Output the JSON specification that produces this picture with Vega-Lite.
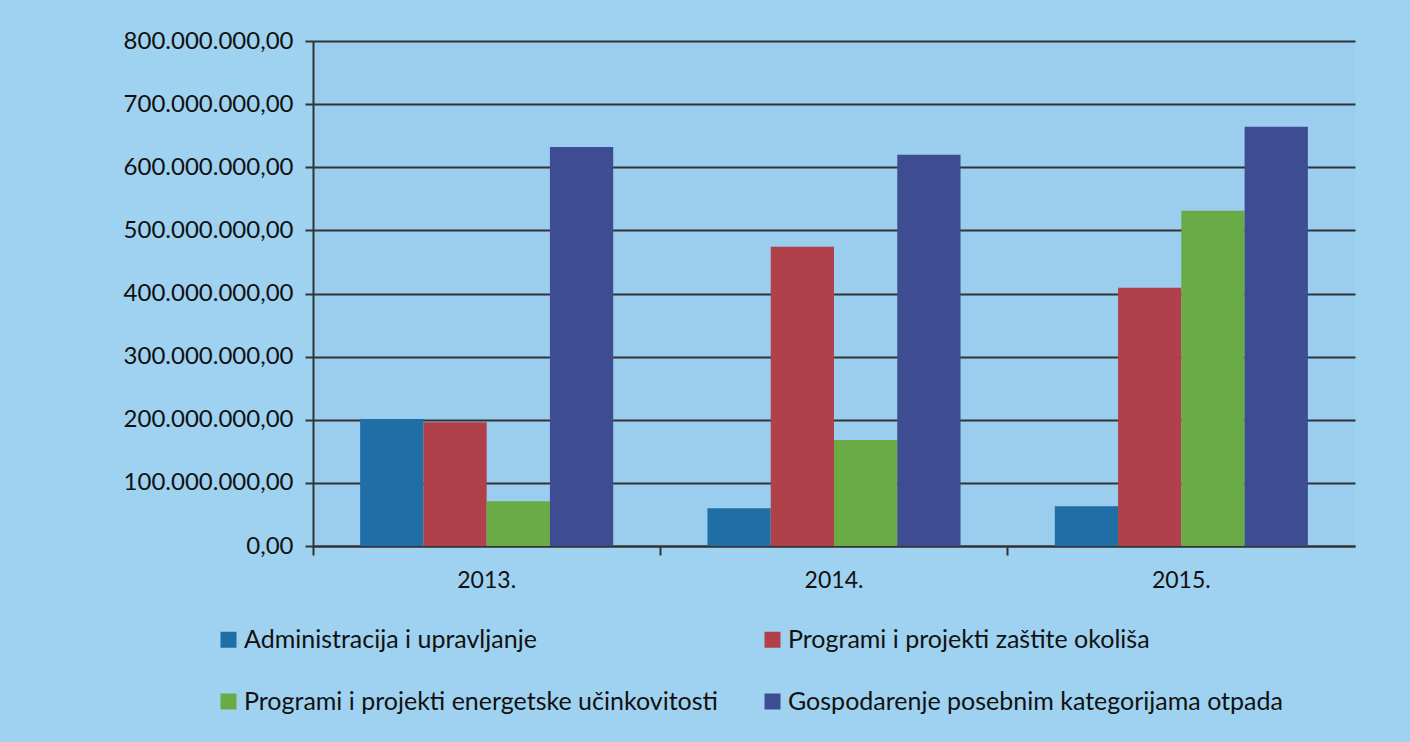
{
  "$schema": "https://vega.github.io/schema/vega-lite/v6.json",
  "autosize": {"type": "none"},
  "width": 1042,
  "height": 505,
  "padding": {"left": 313, "top": 41, "right": 55, "bottom": 196},
  "background": "#9fd1f0",
  "config": {
    "locale": {"number": {"decimal": ",", "thousands": ".", "grouping": [3], "currency": ["", ""]}},
    "font": "Lato",
    "view": {"stroke": null, "fill": "#9bcdef"},
    "axis": {"labelFont": "Lato", "labelColor": "#111111", "labelFontSize": 24, "domainColor": "#333333", "tickColor": "#333333", "domainWidth": 2, "tickWidth": 2, "labelOverlap": false}
  },
  "data": {
    "values": [
      {"godina": "2013.", "kategorija": "Administracija i upravljanje", "iznos": 201000000},
      {"godina": "2013.", "kategorija": "Programi i projekti zaštite okoliša", "iznos": 196000000},
      {"godina": "2013.", "kategorija": "Programi i projekti energetske učinkovitosti", "iznos": 71000000},
      {"godina": "2013.", "kategorija": "Gospodarenje posebnim kategorijama otpada", "iznos": 632000000},
      {"godina": "2014.", "kategorija": "Administracija i upravljanje", "iznos": 60000000},
      {"godina": "2014.", "kategorija": "Programi i projekti zaštite okoliša", "iznos": 474000000},
      {"godina": "2014.", "kategorija": "Programi i projekti energetske učinkovitosti", "iznos": 168000000},
      {"godina": "2014.", "kategorija": "Gospodarenje posebnim kategorijama otpada", "iznos": 620000000},
      {"godina": "2015.", "kategorija": "Administracija i upravljanje", "iznos": 63000000},
      {"godina": "2015.", "kategorija": "Programi i projekti zaštite okoliša", "iznos": 409000000},
      {"godina": "2015.", "kategorija": "Programi i projekti energetske učinkovitosti", "iznos": 531000000},
      {"godina": "2015.", "kategorija": "Gospodarenje posebnim kategorijama otpada", "iznos": 664000000}
    ]
  },
  "mark": {"type": "bar"},
  "encoding": {
    "x": {
      "field": "godina", "type": "nominal",
      "scale": {"paddingInner": 0, "paddingOuter": 0},
      "axis": {"title": null, "labelAngle": 0, "bandPosition": 0, "tickSize": 9, "labelPadding": 14, "grid": false, "labelAlign": "center", "labelFontSize": 23}
    },
    "xOffset": {
      "field": "kategorija", "type": "nominal",
      "sort": ["Administracija i upravljanje", "Programi i projekti zaštite okoliša", "Programi i projekti energetske učinkovitosti", "Gospodarenje posebnim kategorijama otpada"],
      "scale": {"paddingInner": 0, "paddingOuter": 0.745}
    },
    "y": {
      "field": "iznos", "type": "quantitative",
      "scale": {"domain": [0, 800000000], "nice": false},
      "axis": {"title": null, "format": ",.2f", "values": [0,100000000,200000000,300000000,400000000,500000000,600000000,700000000,800000000], "tickSize": 8, "labelPadding": 12, "grid": true, "gridColor": "#333333", "gridWidth": 2, "gridOpacity": 1}
    },
    "color": {
      "field": "kategorija", "type": "nominal",
      "scale": {
        "domain": ["Administracija i upravljanje", "Programi i projekti energetske učinkovitosti", "Programi i projekti zaštite okoliša", "Gospodarenje posebnim kategorijama otpada"],
        "range": ["#1f6ea6", "#6aab46", "#b0414a", "#3e4c92"]
      },
      "legend": {
        "title": null, "orient": "none", "legendX": -97, "legendY": 586,
        "columns": 2, "columnPadding": 42, "rowPadding": 36,
        "symbolType": "square", "symbolSize": 256, "symbolStrokeWidth": 0,
        "labelFont": "Lato", "labelFontSize": 25, "labelColor": "#111111", "labelLimit": 700, "labelOffset": 3
      }
    }
  }
}
